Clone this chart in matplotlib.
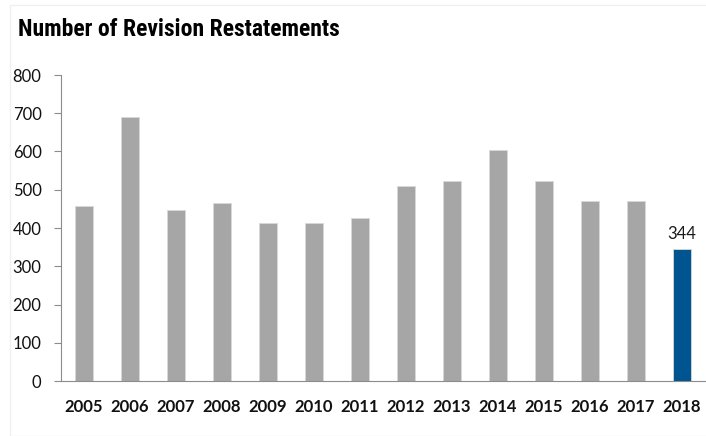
import matplotlib.pyplot as plt
from matplotlib.patches import Rectangle

# restatements per year
years = ["2005", "2006", "2007", "2008", "2009", "2010", "2011",
         "2012", "2013", "2014", "2015", "2016", "2017", "2018"]
counts = [457, 690, 446, 465, 412, 412, 426, 510, 524, 604, 522, 470, 470, 344]

gray = "#a6a6a6"
blue = "#00548f"
colors = [gray] * (len(years) - 1) + [blue]

fig = plt.figure(figsize=(7.06, 4.36), dpi=100)
frame = Rectangle((10 / 706, 0), 1, 1 - 5 / 436, transform=fig.transFigure,
                  facecolor="white", edgecolor="#f0f0f0", lw=1.0, zorder=-10)
fig.patches.append(frame)

ax = fig.add_axes([61 / 706, 1 - 381 / 436, 644 / 706, 306 / 436])
ax.patch.set_alpha(0)

x = range(len(years))
bars = ax.bar(x, counts, width=0.41, color=colors, edgecolor="#d9d9d9", linewidth=0.6)

# only the latest year gets a value label
ax.annotate(str(counts[-1]), (len(years) - 1, counts[-1]), xytext=(0, 5),
            textcoords="offset points", ha="center", va="bottom",
            fontsize=12, family="Lato", color="#1a1a1a")

ax.set_xlim(-0.5, len(years) - 0.5)
ax.set_ylim(0, 800)
ax.set_yticks(range(0, 801, 100))
ax.set_xticks(list(x))
ax.set_xticklabels(years, fontsize=12, fontweight="bold", family="Lato")
for lab in ax.get_yticklabels():
    lab.set_fontsize(12)
    lab.set_family("Lato")

for s in ["top", "right"]:
    ax.spines[s].set_visible(False)
ax.spines["left"].set_color("#8c8c8c")
ax.spines["bottom"].set_color("#8c8c8c")
ax.tick_params(axis="y", length=5, color="#8c8c8c", pad=9, labelcolor="#111111")
ax.tick_params(axis="x", length=0, pad=13, labelcolor="#111111")

fig.text(18 / 706, 1 - 30 / 436, "Number of Revision Restatements",
         fontsize=17, fontweight="bold", fontstretch="condensed",
         family=["Roboto Condensed", "Liberation Sans Narrow", "Roboto"],
         va="center", ha="left")

fig.savefig("out.png", dpi=100)
